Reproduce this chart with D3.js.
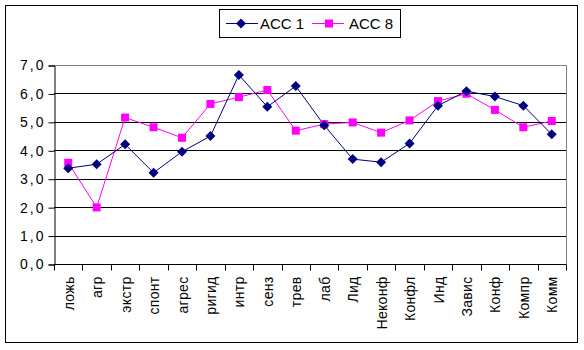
<!DOCTYPE html>
<html><head><meta charset="utf-8">
<script src="https://cdn.jsdelivr.net/npm/d3@7"></script>
<style>body{margin:0;background:#fff}svg{display:block}text{font-family:"Liberation Sans",Arial,sans-serif}</style>
</head><body><svg id="c" width="584" height="350"></svg>
<script>
const categories = ["ложь","агр","экстр","спонт","агрес","ригид","интр","сенз","трев","лаб","Лид","Неконф","Конфл","Инд","Завис","Конф","Компр","Комм"];
const acc1 = [3.37,3.51,4.21,3.21,3.95,4.50,6.65,5.53,6.26,4.88,3.69,3.58,4.24,5.57,6.08,5.89,5.57,4.56];
const acc8 = [3.56,1.99,5.15,4.81,4.44,5.63,5.87,6.12,4.69,4.92,4.98,4.62,5.05,5.73,5.99,5.42,4.81,5.03];
const yTicks = [0,1,2,3,4,5,6,7];
const seriesNames = ["ACC 1","ACC 8"];

const svg = d3.select("#c");
const L=54, R=566, T=65, B=264;
svg.append("rect").attr("x",5.5).attr("y",5.5).attr("width",572).attr("height",337).attr("fill","#fff").attr("stroke","#000").attr("stroke-width",1);

const x = d3.scaleBand().domain(categories).range([L,R]);
const y = d3.scaleLinear().domain([0,7]).range([B,T]);

// grid
svg.append("g").selectAll("line").data(yTicks.filter(d=>d>0&&d<7)).join("line")
 .attr("x1",L).attr("x2",R).attr("y1",d=>Math.round(y(d))+0.5).attr("y2",d=>Math.round(y(d))+0.5).attr("stroke","#000");
// plot border top/right grey
svg.append("path").attr("d",`M${L},${T+0.5}H${R+0.5}V${B}`).attr("fill","none").attr("stroke","#808080");

// y axis
const ya = d3.axisLeft(y).tickValues(yTicks).tickSize(6).tickPadding(5).tickFormat(d=>d3.format(".1f")(d).replace(".",","));
const gy = svg.append("g").attr("transform",`translate(${L+0.5},0.5)`).call(ya);
gy.selectAll("text").attr("font-size",14).attr("fill","#000").attr("font-family","Liberation Sans, Arial, sans-serif")
  .attr("letter-spacing","2px").attr("dx",2);
gy.select(".domain").attr("stroke","#000");

// x axis
const gx = svg.append("g").attr("transform",`translate(0,${B+0.5})`);
gx.append("line").attr("x1",L).attr("x2",R+0.5).attr("stroke","#000");
const bounds = d3.range(categories.length+1).map(i=>L+i*x.bandwidth());
gx.selectAll("line.t").data(bounds).join("line").attr("class","t")
 .attr("x1",d=>Math.round(d)+0.5).attr("x2",d=>Math.round(d)+0.5).attr("y1",0).attr("y2",6).attr("stroke","#000");
gx.selectAll("text").data(categories).join("text")
 .attr("transform",d=>`translate(${x(d)+x.bandwidth()/2+5.5},12) rotate(-90)`)
 .attr("text-anchor","end").attr("font-size",14).attr("letter-spacing","0.3px").attr("fill","#000").text(d=>d);

const line = d3.line().x((d,i)=>x(categories[i])+x.bandwidth()/2).y(d=>y(d));
svg.append("path").datum(acc8).attr("d",line).attr("fill","none").attr("stroke","#ff00ff").attr("stroke-width",1);
svg.append("path").datum(acc1).attr("d",line).attr("fill","none").attr("stroke","#000080").attr("stroke-width",1);

svg.append("g").selectAll("rect").data(acc8).join("rect")
 .attr("x",(d,i)=>x(categories[i])+x.bandwidth()/2-4).attr("y",d=>y(d)-4).attr("width",8).attr("height",8).attr("fill","#ff00ff");
const diamond = "M0,-5L5,0L0,5L-5,0Z";
svg.append("g").selectAll("path").data(acc1).join("path")
 .attr("transform",(d,i)=>`translate(${x(categories[i])+x.bandwidth()/2},${y(d)})`).attr("d",diamond).attr("fill","#000080");

// legend
const lg = svg.append("g");
lg.append("rect").attr("x",219.5).attr("y",9.5).attr("width",181).attr("height",28).attr("fill","#fff").attr("stroke","#000");
const items=[{n:seriesNames[0],c:"#000080",x0:226,m:"d",tx:260},{n:seriesNames[1],c:"#ff00ff",x0:312,m:"s",tx:349}];
items.forEach(it=>{
  lg.append("line").attr("x1",it.x0).attr("x2",it.x0+32).attr("y1",23.5).attr("y2",23.5).attr("stroke",it.c);
  if(it.m==="d") lg.append("path").attr("d",diamond).attr("transform",`translate(${it.x0+15},23.5)`).attr("fill",it.c);
  else lg.append("rect").attr("x",it.x0+13).attr("y",19.5).attr("width",8).attr("height",8).attr("fill",it.c);
  lg.append("text").attr("x",it.tx).attr("y",29).attr("font-size",15).attr("fill","#000").text(it.n);
});
</script></body></html>
